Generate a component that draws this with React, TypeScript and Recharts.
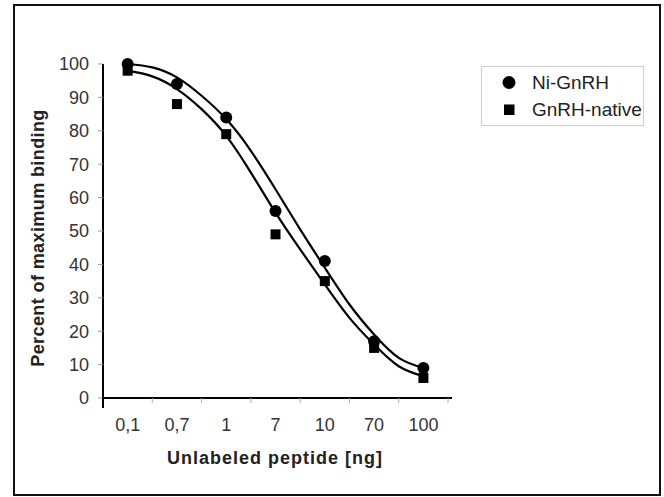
import { ComposedChart, Line, Scatter, XAxis, YAxis, Legend } from 'recharts';

const categories = ['0,1', '0,7', '1', '7', '10', '70', '100'];
const seriesNames = ['Ni-GnRH', 'GnRH-native'];
const niGnrh = [100, 94, 84, 56, 41, 17, 9];
const gnrhNative = [98, 88, 79, 49, 35, 15, 6];

// fitted curves at half-category steps
const curvePos = [0, 0.5, 1, 1.5, 2, 2.5, 3, 3.5, 4, 4.5, 5, 5.5, 6];
const niFit = [100, 99, 96, 90.5, 83.5, 74, 62.5, 50.5, 39, 28, 19, 12, 9];
const nativeFit = [98, 96.3, 92.5, 86.5, 78.5, 67.5, 55.5, 44.5, 34, 24, 16, 9.5, 6.5];

const yTicks = [0, 10, 20, 30, 40, 50, 60, 70, 80, 90, 100];
const xTicks = [-0.5, 0, 0.5, 1, 1.5, 2, 2.5, 3, 3.5, 4, 4.5, 5, 5.5, 6, 6.5];

const FONT = "'Liberation Sans', Arial, sans-serif";

const niPoints = categories.map((_, i) => ({ x: i, y: niGnrh[i] }));
const nativePoints = categories.map((_, i) => ({ x: i, y: gnrhNative[i] }));
const niCurve = curvePos.map((x, i) => ({ x, y: niFit[i] }));
const nativeCurve = curvePos.map((x, i) => ({ x, y: nativeFit[i] }));

function XTick(props: any) {
  const { x, y, payload } = props;
  const v = payload.value;
  if (Number.isInteger(v)) {
    return (
      <text x={x} y={y + 33} textAnchor="middle" fontSize={18} fill="#333" fontFamily={FONT}>
        {categories[v]}
      </text>
    );
  }
  if (v === -0.5) {
    return <line x1={x} x2={x} y1={y} y2={y + 10} stroke="#000" strokeWidth={2} />;
  }
  return <line x1={x} x2={x} y1={y} y2={y + 5} stroke="#aaa" strokeWidth={1} />;
}

const dot = (props: any) => <circle cx={props.cx} cy={props.cy} r={6} fill="#000" />;
const square = (props: any) => (
  <rect x={props.cx - 5} y={props.cy - 5} width={10} height={10} fill="#000" />
);

function LegendBox(props: any) {
  const items = (props.payload || [])
    .filter((p: any) => p.type !== 'none')
    .sort((a: any, b: any) => seriesNames.indexOf(a.value) - seriesNames.indexOf(b.value));
  return (
    <div
      style={{
        width: 163,
        height: 60,
        boxSizing: 'border-box',
        border: '1.5px solid #cfcfcf',
        fontFamily: FONT,
        fontSize: 19,
        color: '#222',
        paddingTop: 2,
      }}
    >
      {items.map((p: any) => (
        <div key={p.value} style={{ display: 'flex', alignItems: 'center', height: 27 }}>
          <svg width={50} height={27}>
            {p.type === 'circle' ? (
              <circle cx={27} cy={13.5} r={6.5} fill="#000" />
            ) : (
              <rect x={22} y={8.5} width={10.5} height={10.5} fill="#000" />
            )}
          </svg>
          <span>{p.value}</span>
        </div>
      ))}
    </div>
  );
}

export default function App() {
  return (
    <div style={{ position: 'fixed', left: 0, top: 0, width: 664, height: 497, background: '#fff' }}>
      <div
        style={{
          position: 'absolute',
          left: 13,
          top: 4,
          width: 648,
          height: 492,
          boxSizing: 'border-box',
          border: '2.5px solid #111',
        }}
      />
      <div style={{ position: 'absolute', left: 0, top: 0 }}>
        <ComposedChart width={664} height={497} margin={{ top: 64, right: 212, bottom: 0, left: 0 }}>
          <XAxis
            type="number"
            dataKey="x"
            domain={[-0.5, 6.58]}
            ticks={xTicks}
            interval={0}
            allowDataOverflow
            height={99}
            tickSize={0}
            tickMargin={0}
            tickLine={false}
            tick={<XTick />}
            axisLine={{ stroke: '#000', strokeWidth: 2 }}
          />
          <YAxis
            type="number"
            dataKey="y"
            domain={[0, 100]}
            ticks={yTicks}
            interval={0}
            width={103}
            tickSize={5}
            tickMargin={9}
            tickLine={{ stroke: '#999' }}
            axisLine={{ stroke: '#000', strokeWidth: 2 }}
            tick={{ fontSize: 18, fill: '#333', fontFamily: FONT }}
          />
          <Line
            data={niCurve}
            dataKey="y"
            type="natural"
            stroke="#000"
            strokeWidth={2.2}
            dot={false}
            legendType="none"
            isAnimationActive={false}
          />
          <Line
            data={nativeCurve}
            dataKey="y"
            type="natural"
            stroke="#000"
            strokeWidth={2.2}
            dot={false}
            legendType="none"
            isAnimationActive={false}
          />
          <Scatter
            name={seriesNames[0]}
            data={niPoints}
            dataKey="y"
            legendType="circle"
            shape={dot}
            isAnimationActive={false}
          />
          <Scatter
            name={seriesNames[1]}
            data={nativePoints}
            dataKey="y"
            legendType="square"
            shape={square}
            isAnimationActive={false}
          />
          <Legend
            layout="vertical"
            align="center"
            verticalAlign="middle"
            content={<LegendBox />}
            wrapperStyle={{ left: 481, top: 66, width: 163, height: 60 }}
          />
        </ComposedChart>
      </div>
      <div
        style={{
          position: 'absolute',
          left: 75,
          top: 449,
          width: 400,
          textAlign: 'center',
          fontFamily: FONT,
          fontWeight: 'bold',
          fontSize: 18,
          lineHeight: '18px',
          letterSpacing: 1,
          color: '#222',
        }}
      >
        Unlabeled peptide [ng]
      </div>
      <div
        style={{
          position: 'absolute',
          left: 37.5 - 150,
          top: 237.5 - 10,
          width: 300,
          height: 20,
          lineHeight: '20px',
          textAlign: 'center',
          transform: 'rotate(-90deg)',
          fontFamily: FONT,
          fontWeight: 'bold',
          fontSize: 18,
          letterSpacing: 0.4,
          color: '#222',
        }}
      >
        Percent of maximum binding
      </div>
    </div>
  );
}
